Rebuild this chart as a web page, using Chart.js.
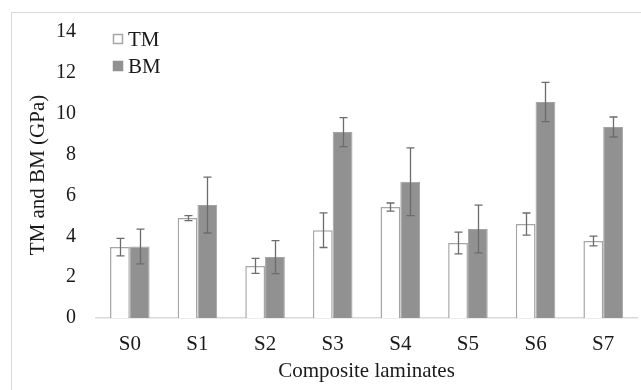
<!DOCTYPE html>
<html>
<head>
<meta charset="utf-8">
<script src="https://cdn.jsdelivr.net/npm/chart.js@4"></script>
<style>
html,body{margin:0;padding:0;background:#fff;overflow:hidden;}
#wrap{position:relative;width:641px;height:390px;}
#frame{position:absolute;left:11px;top:12px;width:700px;height:500px;border:1px solid #d9d9d9;box-sizing:border-box;}
canvas{position:absolute;left:0;top:0;}
</style>
</head>
<body>
<div id="wrap">
<div id="frame"></div>
<canvas id="c" width="641" height="390"></canvas>
</div>
<script>
const categories = ["S0","S1","S2","S3","S4","S5","S6","S7"];
const tmValues = [3.47, 4.89, 2.55, 4.30, 5.43, 3.67, 4.60, 3.77];
const tmErrors = [0.43, 0.12, 0.37, 0.85, 0.20, 0.53, 0.54, 0.24];
const bmValues = [3.50, 5.53, 2.98, 9.10, 6.67, 4.36, 10.57, 9.35];
const bmErrors = [0.85, 1.37, 0.81, 0.71, 1.66, 1.17, 0.96, 0.49];
const seriesNames = ["TM", "BM"];

const FONT = "'Liberation Serif', 'Times New Roman', serif";

const errorBarPlugin = {
  id: 'errorBars',
  afterDatasetsDraw(chart) {
    const ctx = chart.ctx;
    const yScale = chart.scales.y;
    ctx.save();
    ctx.strokeStyle = '#6c6c6c';
    ctx.lineWidth = 1.3;
    chart.data.datasets.forEach((ds, di) => {
      const meta = chart.getDatasetMeta(di);
      meta.data.forEach((bar, i) => {
        const v = ds.data[i], e = ds.errors[i];
        const x = Math.round(bar.x) + 0.5;
        const yTop = yScale.getPixelForValue(v + e);
        const yBot = yScale.getPixelForValue(v - e);
        const cap = 4;
        ctx.beginPath();
        ctx.moveTo(x, yTop); ctx.lineTo(x, yBot);
        ctx.moveTo(x - cap, yTop); ctx.lineTo(x + cap, yTop);
        ctx.moveTo(x - cap, yBot); ctx.lineTo(x + cap, yBot);
        ctx.stroke();
      });
    });
    ctx.restore();
  }
};

const legendPlugin = {
  id: 'insideLegend',
  afterDraw(chart) {
    const ctx = chart.ctx;
    const x0 = 113;
    const rows = [
      {y: 39, fill: '#ffffff', stroke: '#a6a6a6', label: seriesNames[0]},
      {y: 66, fill: '#919191', stroke: '#919191', label: seriesNames[1]}
    ];
    ctx.save();
    ctx.font = "21px " + FONT;
    ctx.textBaseline = 'middle';
    rows.forEach(r => {
      ctx.fillStyle = r.fill;
      ctx.fillRect(x0, r.y - 5, 10, 10);
      ctx.strokeStyle = r.stroke;
      ctx.lineWidth = 1.5;
      ctx.strokeRect(x0 + 0.5, r.y - 4.5, 9, 9);
      ctx.fillStyle = '#1a1a1a';
      ctx.fillText(r.label, x0 + 15, r.y + 1);
    });
    ctx.restore();
  }
};

new Chart(document.getElementById('c'), {
  type: 'bar',
  data: {
    labels: categories,
    datasets: [
      {label: seriesNames[0], data: tmValues, errors: tmErrors,
       backgroundColor: '#ffffff', borderColor: '#a6a6a6', borderWidth: 1.5},
      {label: seriesNames[1], data: bmValues, errors: bmErrors,
       backgroundColor: '#919191', borderColor: '#a3a3a3', borderWidth: 1}
    ]
  },
  options: {
    responsive: false,
    animation: false,
    devicePixelRatio: 1,
    layout: {padding: {left: 0, right: 4, top: 32, bottom: 0}},
    plugins: {legend: {display: false}, tooltip: {enabled: false}},
    datasets: {bar: {categoryPercentage: 0.585, barPercentage: 1.0}},
    scales: {
      x: {
        grid: {display: false, drawTicks: false},
        border: {color: '#d9d9d9', width: 1.5},
        ticks: {color: '#1a1a1a', font: {family: FONT, size: 21}, padding: 14},
        title: {display: true, text: 'Composite laminates', color: '#1a1a1a',
                font: {family: FONT, size: 21}, padding: {top: 0, bottom: 6}},
        afterFit(scale) { scale.height = 72; }
      },
      y: {
        min: 0, max: 14,
        grid: {display: false, drawTicks: false},
        border: {display: false},
        ticks: {stepSize: 2, color: '#1a1a1a', font: {family: FONT, size: 20}, padding: 20},
        title: {display: true, text: 'TM and BM (GPa)', color: '#1a1a1a',
                font: {family: FONT, size: 21}, padding: {top: 26, bottom: 0}},
        afterFit(scale) { scale.width = 96; scale.paddingTop = 0; }
      }
    }
  },
  plugins: [errorBarPlugin, legendPlugin]
});
</script>
</body>
</html>
